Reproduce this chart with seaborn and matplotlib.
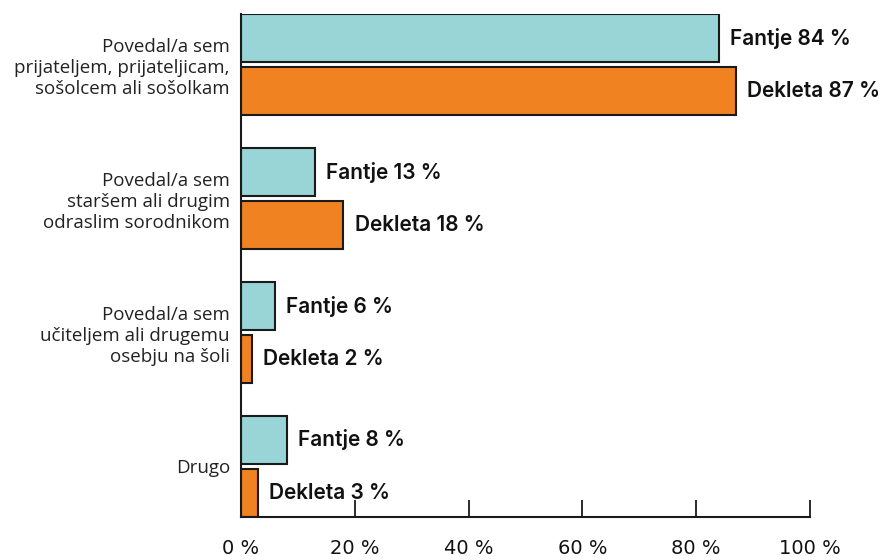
import pandas as pd
import numpy as np
import matplotlib
matplotlib.use("Agg")
import matplotlib.pyplot as plt
import seaborn as sns

# podatki
kategorije = [
    "Povedal/a sem\nprijateljem, prijateljicam,\nsošolcem ali sošolkam",
    "Povedal/a sem\nstaršem ali drugim\nodraslim sorodnikom",
    "Povedal/a sem\nučiteljem ali drugemu\nosebju na šoli",
    "Drugo",
]
skupine = ["Fantje", "Dekleta"]
fantje = [84, 13, 6, 8]
dekleta = [87, 18, 2, 3]
x_ticks = [0, 20, 40, 60, 80, 100]
barve = ["#99d5d6", "#f08222"]

df = pd.DataFrame({
    "kategorija": kategorije * 2,
    "spol": ["Fantje"] * len(fantje) + ["Dekleta"] * len(dekleta),
    "vrednost": fantje + dekleta,
})

sns.set_style("white")
plt.rcParams["font.family"] = ["Open Sans", "DejaVu Sans"]

fig = plt.figure(figsize=(8.91, 5.6), dpi=100)
ax = fig.add_axes([241 / 891, 1 - 517 / 560, (810 - 241) / 891, (517 - 14) / 560])

sns.barplot(data=df, y="kategorija", x="vrednost", hue="spol", hue_order=skupine,
            palette=barve, saturation=1, orient="h", width=0.79, gap=0.09,
            edgecolor="#1a1a1a", linewidth=1.5, legend=False, ax=ax)

# oznake vrednosti
for cont, ime in zip(ax.containers, skupine):
    labels = [f"{ime} {int(v)} %" for v in cont.datavalues]
    ax.bar_label(cont, labels=labels, padding=8, fontsize=15, fontweight=600,
                 color="#111111", family=["Inter", "Open Sans", "DejaVu Sans"])

ax.set_xlim(0, 100)
ax.set_ylim(3.378, -0.378)
ax.set_xticks(x_ticks)
ax.set_xticklabels([f"{t} %" for t in x_ticks], fontsize=14,
                   family=["Liberation Sans Narrow", "DejaVu Sans"])
ax.tick_params(axis="x", bottom=True, direction="in", length=12, width=1.3,
               color="#1a1a1a", pad=16, labelcolor="#111111")
ax.tick_params(axis="y", left=False, length=0, pad=8)
for lab in ax.get_yticklabels():
    lab.set_fontsize(13.5)
    lab.set_color("#222222")
ax.set_xlabel("")
ax.set_ylabel("")
sns.despine(ax=ax, top=True, right=True)
for s in ["left", "bottom"]:
    ax.spines[s].set_color("#1a1a1a")
    ax.spines[s].set_linewidth(1.5)
ax.set_facecolor("white")

fig.savefig("out.png", dpi=100, facecolor="white")
